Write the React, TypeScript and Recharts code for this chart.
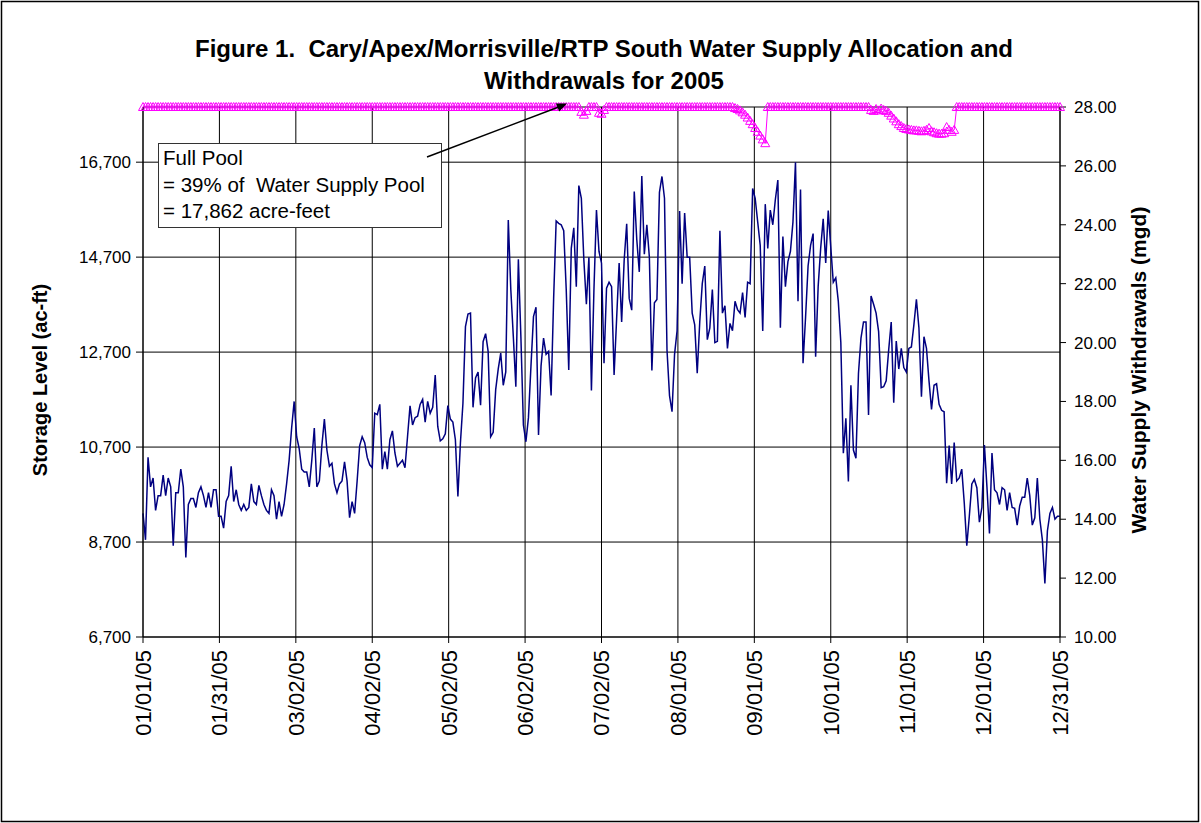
import React from 'react';
import { ComposedChart, Line, XAxis, YAxis, CartesianGrid } from 'recharts';

const F = 17862;

// Daily withdrawals (mgd), 01/01/05 .. 12/31/05
const withdrawals = [
  14.2, 13.3, 16.1, 15.1, 15.4, 14.3, 14.8, 14.8, 15.5, 14.8,
  15.4, 15.1, 13.1, 14.9, 14.9, 15.7, 15.1, 12.7, 14.5, 14.7,
  14.7, 14.4, 14.9, 15.1, 14.8, 14.4, 14.9, 14.4, 15.0, 15.0,
  14.1, 14.1, 13.7, 14.6, 14.8, 15.8, 14.6, 15.0, 14.5, 14.3,
  14.5, 14.3, 14.4, 15.2, 14.6, 14.5, 15.15, 14.8, 14.5, 14.3,
  14.2, 15.0, 14.8, 14.0, 14.6, 14.1, 14.5, 15.2, 16.0, 17.1,
  18.0, 16.8, 16.4, 15.7, 15.6, 15.6, 15.1, 16.0, 17.1, 15.1,
  15.3, 16.5, 17.4, 16.35, 15.8, 15.9, 15.2, 14.9, 15.2, 15.3,
  15.95, 15.3, 14.05, 14.6, 14.2, 15.3, 16.5, 16.8, 16.6, 16.1,
  15.85, 15.75, 17.6, 17.55, 17.9, 15.7, 16.3, 15.7, 16.7, 17.0,
  16.25, 15.8, 15.9, 16.0, 15.75, 16.8, 17.85, 17.2, 17.45, 17.5,
  17.9, 18.07, 17.3, 18.0, 17.6, 17.8, 18.9, 17.15, 16.66, 16.73,
  16.9, 17.86, 17.4, 17.3, 16.7, 14.77, 16.6, 17.94, 20.54, 20.97,
  21.0, 17.8, 18.8, 19.0, 17.87, 20.03, 20.3, 19.7, 16.8, 16.95,
  18.4, 19.1, 19.64, 18.55, 19.0, 24.16, 21.8, 20.2, 18.5, 22.83,
  20.2, 17.2, 16.63, 17.45, 19.2, 20.88, 21.2, 16.86, 19.2, 20.15,
  19.6, 19.7, 18.2, 21.5, 24.13, 24.05, 24.0, 23.8, 21.8, 19.07,
  23.2, 23.9, 21.9, 25.33, 24.9, 22.8, 21.3, 22.9, 18.37, 21.8,
  24.5, 23.1, 22.7, 19.3, 21.85, 22.05, 21.9, 18.9, 20.8, 22.7,
  20.7, 22.8, 24.03, 21.5, 21.1, 25.13, 23.5, 22.4, 25.66, 23.0,
  24.0, 22.9, 19.05, 21.35, 21.46, 25.1, 25.64, 24.9, 19.75, 18.2,
  17.65, 19.6, 20.4, 24.47, 22.0, 24.4, 22.9, 22.9, 21.0, 20.6,
  18.96, 20.7, 22.0, 22.6, 20.1, 20.5, 21.8, 20.0, 20.04, 23.8,
  21.0, 21.25, 19.8, 20.65, 20.4, 21.4, 21.12, 21.0, 21.7, 20.85,
  22.05, 22.0, 25.23, 24.9, 24.1, 23.3, 20.39, 24.7, 23.2, 24.5,
  24.0, 24.85, 25.52, 20.5, 23.6, 21.9, 22.75, 23.1, 24.1, 26.12,
  21.4, 25.2, 19.3, 20.85, 22.6, 23.3, 23.7, 19.52, 21.9, 23.2,
  24.2, 22.7, 24.48, 23.25, 22.05, 22.2, 21.4, 20.0, 16.24, 17.43,
  15.28, 18.55, 16.35, 16.07, 18.95, 20.15, 20.7, 20.7, 17.54, 21.58,
  21.3, 21.0, 20.37, 18.47, 18.5, 18.7, 19.75, 20.7, 17.96, 20.05,
  19.1, 19.8, 19.15, 19.0, 19.8, 19.85, 20.6, 21.47, 20.5, 18.16,
  20.2, 19.8, 18.7, 17.73, 18.55, 18.6, 17.9, 17.7, 17.65, 15.22,
  16.5, 15.2, 16.6, 15.3, 15.4, 15.7, 14.55, 13.1, 14.1, 15.2,
  15.35, 15.07, 13.9, 14.4, 16.52, 15.1, 13.52, 16.25, 15.0, 14.9,
  14.5, 15.07, 15.0, 14.3, 14.9, 14.4, 14.37, 13.8, 14.45, 14.75,
  14.75, 15.4, 14.8, 13.8, 14.05, 15.4, 14.0, 13.3, 11.82, 13.6,
  14.2, 14.4, 14.0, 14.1, 14.1,
];

// Daily storage level (ac-ft); full pool = 17,862
const storage = [
  F, F, F, F, F, F, F, F, F, F,
  F, F, F, F, F, F, F, F, F, F,
  F, F, F, F, F, F, F, F, F, F,
  F, F, F, F, F, F, F, F, F, F,
  F, F, F, F, F, F, F, F, F, F,
  F, F, F, F, F, F, F, F, F, F,
  F, F, F, F, F, F, F, F, F, F,
  F, F, F, F, F, F, F, F, F, F,
  F, F, F, F, F, F, F, F, F, F,
  F, F, F, F, F, F, F, F, F, F,
  F, F, F, F, F, F, F, F, F, F,
  F, F, F, F, F, F, F, F, F, F,
  F, F, F, F, F, F, F, F, F, F,
  F, F, F, F, F, F, F, F, F, F,
  F, F, F, F, F, F, F, F, F, F,
  F, F, F, F, F, F, F, F, F, F,
  F, F, F, F, F, F, F, F, F, F,
  F, F, F, F, 17760, 17700, 17780, F, F, F,
  F, 17740, 17720, 17800, F, F, F, F, F, F,
  F, F, F, F, F, F, F, F, F, F,
  F, F, F, F, F, F, F, F, F, F,
  F, F, F, F, F, F, F, F, F, F,
  F, F, F, F, F, F, F, F, F, F,
  F, F, F, F, F, 17840, 17820, 17790, 17750, 17700,
  17640, 17570, 17500, 17420, 17340, 17260, 17180, 17100, F, F,
  F, F, F, F, F, F, F, F, F, F,
  F, F, F, F, F, F, F, F, F, F,
  F, F, F, F, F, F, F, F, F, F,
  F, F, F, F, F, F, F, F, F, 17800,
  17780, 17820, 17790, 17830, 17800, 17780, 17740, 17680, 17620, 17560,
  17500, 17460, 17420, 17400, 17390, 17380, 17370, 17370, 17360, 17350,
  17360, 17380, 17420, 17350, 17330, 17310, 17300, 17300, 17310, 17440,
  17380, 17340, 17380, F, F, F, F, F, F, F,
  F, F, F, F, F, F, F, F, F, F,
  F, F, F, F, F, F, F, F, F, F,
  F, F, F, F, F, F, F, F, F, F,
  F, F, F, F, F,
];

const tickDays = [0, 30.33, 60.67, 91, 121.33, 151.67, 182, 212.33, 242.67, 273, 303.33, 333.67, 364];
const tickLabels = [
  '01/01/05', '01/31/05', '03/02/05', '04/02/05', '05/02/05', '06/02/05', '07/02/05',
  '08/01/05', '09/01/05', '10/01/05', '11/01/05', '12/01/05', '12/31/05',
];
const leftTicks = [6700, 8700, 10700, 12700, 14700, 16700];
const rightTicks = [10, 12, 14, 16, 18, 20, 22, 24, 26, 28];

const data = withdrawals.map((w, i) => ({ day: i, withdrawal: w, storage: storage[i] }));

const FONT = '"Liberation Sans", Arial, sans-serif';

const XTick = (props: any) => {
  const { x, y, payload, index } = props;
  let idx = tickDays.indexOf(payload.value);
  if (idx < 0) idx = index;
  return (
    <text
      x={x}
      y={y}
      transform={`rotate(-90 ${x} ${y})`}
      textAnchor="end"
      dy="0.36em"
      fontSize={22}
      fill="#000"
      fontFamily={FONT}
    >
      {tickLabels[idx]}
    </text>
  );
};

const TriDot = (props: any) => {
  const { cx, cy, index } = props;
  if (cx == null || cy == null) return <g key={`t${index}`} />;
  return (
    <path
      key={`t${index}`}
      d={`M${cx},${cy - 4.5}L${cx - 4.5},${cy + 3.5}L${cx + 4.5},${cy + 3.5}Z`}
      fill="none"
      stroke="#FF00FF"
      strokeWidth={1}
    />
  );
};

export default function App() {
  return (
    <div style={{ position: 'absolute', left: 0, top: 0, width: 1201, height: 823, background: '#fff' }}>
      <ComposedChart
        width={1201}
        height={823}
        data={data}
        margin={{ top: 107, left: 63, right: 61, bottom: 86 }}
      >
        <CartesianGrid yAxisId="left" stroke="#000" strokeWidth={1} />
        <XAxis
          dataKey="day"
          type="number"
          domain={[0, 364]}
          ticks={tickDays}
          interval={0}
          height={100}
          tickSize={6}
          tickMargin={7}
          stroke="#000"
          tick={<XTick />}
        />
        <YAxis
          yAxisId="left"
          domain={[6700, F]}
          ticks={leftTicks}
          width={80}
          tickSize={7}
          tickMargin={5}
          stroke="#000"
          interval={0}
          tickFormatter={(v: number) => v.toLocaleString('en-US')}
          tick={{ fontSize: 17, fill: '#000', fontFamily: FONT }}
        />
        <YAxis
          yAxisId="right"
          orientation="right"
          domain={[10, 28]}
          ticks={rightTicks}
          width={80}
          tickSize={6}
          tickMargin={8}
          stroke="#000"
          interval={0}
          tickFormatter={(v: number) => v.toFixed(2)}
          tick={{ fontSize: 17, fill: '#000', fontFamily: FONT }}
        />
        <Line
          yAxisId="right"
          type="linear"
          dataKey="withdrawal"
          stroke="#000080"
          strokeWidth={1.5}
          dot={false}
          activeDot={false}
          isAnimationActive={false}
        />
        <Line
          yAxisId="left"
          type="linear"
          dataKey="storage"
          stroke="#FF00FF"
          strokeWidth={1}
          dot={TriDot}
          activeDot={false}
          isAnimationActive={false}
        />
      </ComposedChart>
      <svg
        width={1201}
        height={823}
        style={{ position: 'absolute', left: 0, top: 0, pointerEvents: 'none' }}
        fontFamily={FONT}
        xmlSpace="preserve"
      >
        <rect x={1.5} y={1.5} width={1197} height={820} fill="none" stroke="#000" strokeWidth={1.5} />
        <text x={604} y={57} textAnchor="middle" fontSize={24} fontWeight="bold" fill="#000" xmlSpace="preserve">
          {'Figure 1.  Cary/Apex/Morrisville/RTP South Water Supply Allocation and'}
        </text>
        <text x={604} y={89} textAnchor="middle" fontSize={24} fontWeight="bold" fill="#000">
          Withdrawals for 2005
        </text>
        <text
          x={40}
          y={380}
          transform="rotate(-90 40 380)"
          textAnchor="middle"
          dominantBaseline="central"
          fontSize={20}
          fontWeight="bold"
          fill="#000"
        >
          Storage Level (ac-ft)
        </text>
        <text
          x={1138}
          y={370}
          transform="rotate(-90 1138 370)"
          textAnchor="middle"
          dominantBaseline="central"
          fontSize={21}
          fontWeight="bold"
          fill="#000"
        >
          Water Supply Withdrawals (mgd)
        </text>
        <rect x={158.5} y={143.5} width={283} height={84} fill="#fff" stroke="#333" strokeWidth={1} />
        <text x={163} y={165} fontSize={20.5} fill="#000">Full Pool</text>
        <text x={163} y={191.5} fontSize={20.5} fill="#000" xmlSpace="preserve">{'= 39% of  Water Supply Pool'}</text>
        <text x={163} y={217.5} fontSize={20.5} fill="#000">= 17,862 acre-feet</text>
        <line x1={427} y1={157} x2={560} y2={106.5} stroke="#000" strokeWidth={1.5} />
        <path d="M567,103.5 L555.9,103.4 L559.2,111.4 Z" fill="#000" />
      </svg>
    </div>
  );
}
